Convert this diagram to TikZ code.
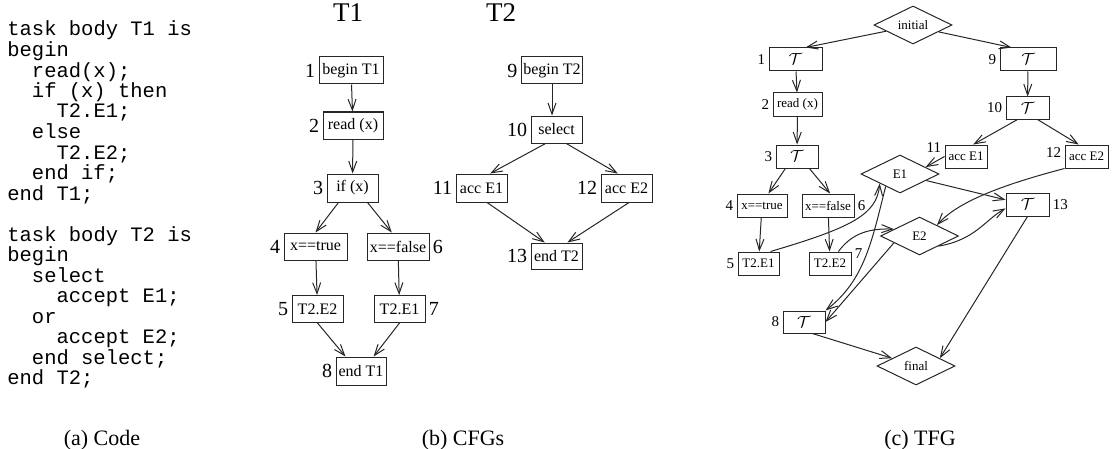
\documentclass[tikz,border=0pt]{standalone}
\usepackage{fontspec}
\setmainfont{Liberation Serif}
\setmonofont{Liberation Mono}
\usetikzlibrary{arrows.meta,shapes.geometric}
\newcommand{\tsym}{{\fontsize{8}{9}\selectfont$\mathcal{T}$}}

\begin{document}
\begin{tikzpicture}[x=0.5pt,y=-0.5pt,
  code/.style={anchor=base west,inner sep=0pt,font=\ttfamily\fontsize{10.25}{10.25}\selectfont},
  cf/.style={draw=black!85,line width=0.5pt,minimum height=13.5pt,inner sep=1pt,font=\fontsize{8}{9}\selectfont},
  tf/.style={draw=black!85,line width=0.5pt,minimum height=11.5pt,inner sep=1pt,font=\fontsize{6.5}{7}\selectfont},
  ev/.style={draw=black!85,line width=0.5pt,diamond,aspect=2,minimum width=39pt,minimum height=19pt,inner sep=0pt,font=\fontsize{6.5}{7}\selectfont},
  cl/.style={font=\fontsize{10}{12}\selectfont,inner sep=1pt},
  tl/.style={font=\fontsize{7.5}{9}\selectfont,inner sep=1pt},
  ttl/.style={font=\fontsize{13.5}{15}\selectfont},
  capt/.style={font=\fontsize{11}{13}\selectfont},
  arr/.style={-{Straight Barb[length=5.5pt,width=4pt]},line width=0.5pt,black!85},
  label distance=0.5pt]
  \useasboundingbox (0,0) rectangle (1112,449);

  \foreach \k/\n/\s in {1/0/task body T1 is, 2/0/begin, 3/2/read(x);, 4/2/if (x) then,
      5/4/T2.E1;, 6/2/else, 7/4/T2.E2;, 8/2/end if;, 9/0/end T1;,
      11/0/task body T2 is, 12/0/begin, 13/2/select, 14/4/accept E1;, 15/2/or,
      16/4/accept E2;, 17/2/end select;, 18/0/end T2;}
    \node[code] (code\k) at ({7+12.3*\n},{36+20.5*(\k-1)}) {\s};

  \node[ttl] (h1) at (348,13) {T1};
  \node[ttl] (h2) at (501,13) {T2};
  \node[cf,minimum width=32pt,label={[cl]left:1}] (c1) at (351,70.5) {begin T1};
  \node[cf,minimum width=30pt,label={[cl]left:2}] (c2) at (353,125.5) {read (x)};
  \node[cf,minimum width=25.5pt,minimum height=14pt,label={[cl]left:3}] (c3) at (352.5,188) {if (x)};
  \node[cf,minimum width=31.5pt,label={[cl]left:4}] (c4) at (315.5,246.5) {x==true};
  \node[cf,minimum width=31pt,label={[cl]right:6}] (c6) at (398,246.5) {x==false};
  \node[cf,minimum width=25.5pt,label={[cl]left:5}] (c5) at (317.5,309) {T2.E2};
  \node[cf,minimum width=25.5pt,label={[cl]right:7}] (c7) at (399.5,309) {T2.E1};
  \node[cf,minimum width=25pt,minimum height=14pt,label={[cl]left:8}] (c8) at (361,371) {end T1};
  \node[cf,minimum width=30pt,label={[cl]left:9}] (c9) at (552,70.5) {begin T2};
  \node[cf,minimum width=25.5pt,label={[cl]left:10}] (c10) at (556.5,129.5) {select};
  \node[cf,minimum width=25.5pt,minimum height=14pt,label={[cl]left:11}] (c11) at (481.5,188) {acc E1};
  \node[cf,minimum width=25.5pt,minimum height=14pt,label={[cl]left:12}] (c12) at (626.5,188) {acc E2};
  \node[cf,minimum width=25.5pt,minimum height=13pt,label={[cl]left:13}] (c13) at (556.5,256) {end T2};
  \draw[arr] (c1) -- (c2);
  \draw[arr] (c2) -- (c3);
  \draw[arr] (c3.226) -- (c4.north);
  \draw[arr] (c3.-44) -- (c6.114);
  \draw[arr] (c4) -- (c5);
  \draw[arr] (c6) -- (c7);
  \draw[arr] (c5.south) -- (c8.137);
  \draw[arr] (c7.south) -- (c8.49);
  \draw[arr] (c9) -- (c9 |- c10.north);
  \draw[arr] (c10.232) -- (c11.59);
  \draw[arr] (c10.-55) -- (c12.121);
  \draw[arr] (c11.-69) -- (c13.131.5);
  \draw[arr] (c12.-80) -- (c13.51);

  \node[ev] (ini) at (913,25) {initial};
  \node[ev] (fin) at (916,366) {final};
  \node[ev] (e1) at (900,174) {E1};
  \node[ev] (e2) at (919.5,236) {E2};
  \node[tf,minimum width=26.5pt,label={[tl]left:1}] (t1) at (795.5,59.5) {\tsym};
  \node[tf,minimum width=24.5pt,label={[tl]left:2}] (t2) at (797.5,104.5) {read (x)};
  \node[tf,minimum width=21pt,label={[tl]left:3}] (t3) at (797,156.5) {\tsym};
  \node[tf,minimum width=25pt,label={[tl]left:4}] (t4) at (762,205.5) {x==true};
  \node[tf,minimum width=26pt,label={[tl]right:6}] (t6) at (828,205.5) {x==false};
  \node[tf,minimum width=20.5pt,label={[tl]left:5}] (t5) at (758.5,263.5) {T2.E1};
  \node[tf,minimum width=21pt,label={[tl,yshift=5pt]right:7}] (t7) at (830,263.5) {T2.E2};
  \node[tf,minimum width=21pt,minimum height=11pt,label={[tl]left:8}] (t8) at (804,322) {\tsym};
  \node[tf,minimum width=28pt,label={[tl]left:9}] (t9) at (1028,59.5) {\tsym};
  \node[tf,minimum width=21.5pt,minimum height=11pt,label={[tl]left:10}] (t10) at (1027.5,108) {\tsym};
  \node[tf,minimum width=21pt,label={[tl,yshift=4.5pt]left:11}] (t11) at (966,156.5) {acc E1};
  \node[tf,minimum width=21.5pt,label={[tl,yshift=2pt]left:12}] (t12) at (1086.5,156.5) {acc E2};
  \node[tf,minimum width=21.5pt,label={[tl]right:13}] (t13) at (1027.5,204.5) {\tsym};
  \draw[arr] (ini.193) -- (t1.50);
  \draw[arr] (ini.-15) -- (t9.144);
  \draw[arr] (t1) -- (t2);
  \draw[arr] (t2) -- (t3);
  \draw[arr] (t3.-134) -- (t4.62);
  \draw[arr] (t3.-44) -- (t6.80);
  \draw[arr] (t4) -- (t5);
  \draw[arr] (t6) -- (t7);
  \draw[arr] (t9) -- (t10);
  \draw[arr] (t10.-131) -- (t11.59);
  \draw[arr] (t10.-49) -- (t12.123);
  \draw[arr] (t11.west) -- (e1.15);
  \draw[arr] (t12.south west) .. controls (990,188) and (955,205) .. (e2.32);
  \draw[arr] (e1.-14) -- (t13.168);
  \draw[arr] (e2.-28) .. controls (975,240) and (985,220) .. (t13.190);
  \draw[arr] (t5.45) .. controls (850,228) and (877,215) .. (e1.205);
  \draw[arr] (t7.55) .. controls (850,236) and (865,228) .. (e2.165);
  \draw[arr] (e1.221) .. controls (872,240) and (865,280) .. (t8.north east);
  \draw[arr] (e2.195) -- (t8.east);
  \draw[arr] (t8.-54) -- (fin.162);
  \draw[arr] (t13.south) -- (fin.18);

  \node[capt] (capa) at (102,440) {(a) Code};
  \node[capt] (capb) at (463,440) {(b) CFGs};
  \node[capt] (capc) at (920,440) {(c) TFG};
\end{tikzpicture}
\end{document}
